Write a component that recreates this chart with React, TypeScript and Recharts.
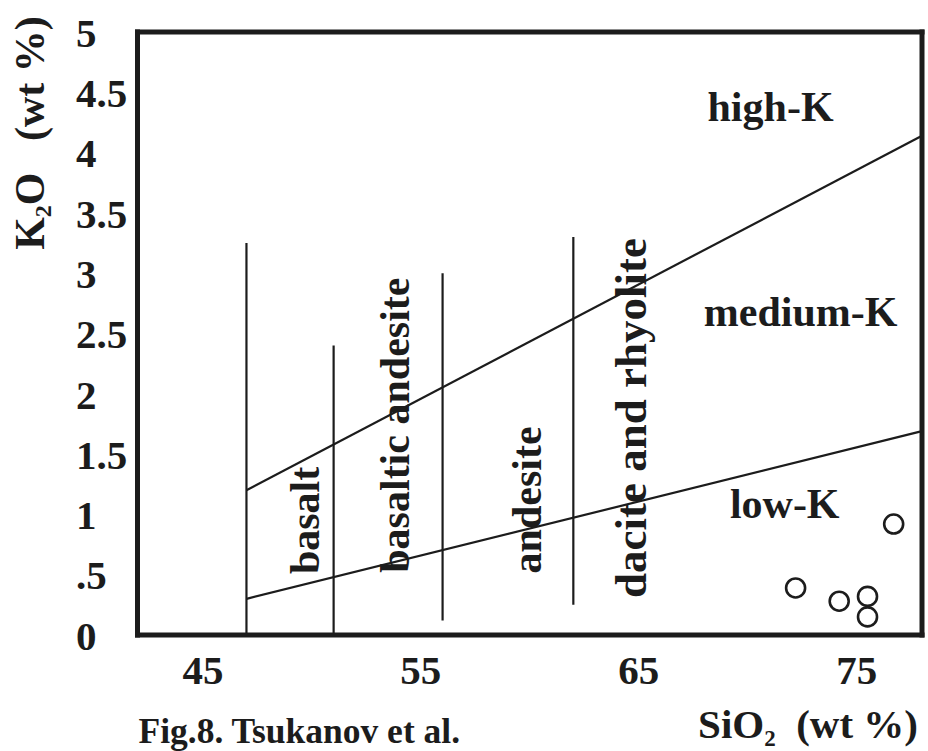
import React from 'react';
import { ScatterChart, Scatter, XAxis, YAxis, ReferenceLine } from 'recharts';

// axis setup
const X_DOMAIN = [42, 78];
const Y_DOMAIN = [0, 5];
const X_LABEL_TICKS = [45, 55, 65, 75];
const X_MINOR_TICKS = [46, 48, 50, 52, 54, 56, 58, 60, 62, 64, 66, 68, 70, 72, 74, 76];
const Y_TICKS = [0, 0.5, 1, 1.5, 2, 2.5, 3, 3.5, 4, 4.5, 5];
const Y_TICK_LABELS = ['0', '.5', '1', '1.5', '2', '2.5', '3', '3.5', '4', '4.5', '5'];

// K2O series boundaries (SiO2, K2O)
const HIGH_MEDIUM_K = [{ x: 47, y: 1.2 }, { x: 78, y: 4.14 }];
const MEDIUM_LOW_K = [{ x: 47, y: 0.3 }, { x: 78, y: 1.69 }];

// vertical rock-type dividers
const DIVIDER_SIO2 = [47, 51, 56, 62];
const DIVIDER_BOTTOM = [0, 0, 0.12, 0.25];
const DIVIDER_TOP = [3.25, 2.4, 3.0, 3.3];

// samples
const SAMPLE_SIO2 = [76.7, 72.2, 74.2, 75.5, 75.5];
const SAMPLE_K2O = [0.92, 0.39, 0.28, 0.32, 0.15];

// field names
const ZONE_NAMES = ['high-K', 'medium-K', 'low-K'];
const ZONE_SIO2 = [71.05, 72.43, 71.7];
const ZONE_K2O = [4.26, 2.56, 0.97];

const ROCK_NAMES = ['basalt', 'basaltic andesite', 'andesite', 'dacite and rhyolite'];
const ROCK_SIO2 = [50.33, 54.46, 60.52, 65.34];
const ROCK_K2O = [0.95, 1.74, 1.12, 1.8];
const ROCK_FONT = [42, 42, 42, 45];

const INK = '#1c1c1c';
const FONT = "'Liberation Serif', 'Times New Roman', serif";

const samples = SAMPLE_SIO2.map((x, i) => ({ x, y: SAMPLE_K2O[i] }));
const zones = ZONE_NAMES.map((text, i) => ({ x: ZONE_SIO2[i], y: ZONE_K2O[i], text }));
const rocks = ROCK_NAMES.map((text, i) => ({ x: ROCK_SIO2[i], y: ROCK_K2O[i], text, size: ROCK_FONT[i] }));

const YTick = (props: any) => {
  const { x, y, payload } = props;
  const idx = Y_TICKS.indexOf(payload.value);
  return (
    <text x={x - 61.5} y={y} dy="0.36em" textAnchor="start" fontFamily={FONT} fontWeight="bold" fontSize={41} fill={INK}>
      {Y_TICK_LABELS[idx]}
    </text>
  );
};

const YTitle = (props: any) => {
  const { viewBox } = props;
  const cx = viewBox.x + 44;
  const cy = viewBox.y + 101;
  return (
    <text
      x={cx}
      y={cy}
      transform={`rotate(-90 ${cx} ${cy})`}
      textAnchor="middle"
      fontFamily={FONT}
      fontWeight="bold"
      fontSize={42}
      fill={INK}
      style={{ whiteSpace: 'pre' }}
    >
      K<tspan fontSize={24} dy={7}>2</tspan>
      <tspan dy={-7}>O   (wt %)</tspan>
    </text>
  );
};

const XTitle = (props: any) => {
  const { viewBox } = props;
  const right = viewBox.x + viewBox.width - 4;
  return (
    <g fontFamily={FONT} fontWeight="bold" fill={INK}>
      <text x={right} y={viewBox.y + 103} textAnchor="end" fontSize={41} style={{ whiteSpace: 'pre' }}>
        SiO<tspan fontSize={23} dy={8}>2</tspan>
        <tspan dy={-8}>  (wt %)</tspan>
      </text>
      <text x={viewBox.x + 1} y={viewBox.y + 108} textAnchor="start" fontSize={35.5}>
        Fig.8. Tsukanov et al.
      </text>
    </g>
  );
};

const SampleDot = (props: any) => (
  <circle cx={props.cx} cy={props.cy} r={9.5} fill="#fff" stroke={INK} strokeWidth={2.6} />
);

const ZoneText = (props: any) => (
  <text x={props.cx} y={props.cy} textAnchor="middle" fontFamily={FONT} fontWeight="bold" fontSize={42} fill={INK}>
    {props.payload.text}
  </text>
);

const RockText = (props: any) => (
  <text
    x={props.cx}
    y={props.cy}
    transform={`rotate(-90 ${props.cx} ${props.cy})`}
    textAnchor="middle"
    fontFamily={FONT}
    fontWeight="bold"
    fontSize={props.payload.size}
    fill={INK}
  >
    {props.payload.text}
  </text>
);

const frame = { stroke: INK, strokeWidth: 5, strokeLinecap: 'square' as const };
const minorTick = { stroke: '#777', strokeWidth: 1 };

export default function App() {
  return (
    <div style={{ position: 'absolute', left: 0, top: 0, width: 928, height: 751, background: '#fff', overflow: 'hidden' }}>
      <ScatterChart width={928} height={751} margin={{ top: 32, right: 6, bottom: 56, left: 0 }}>
        {/* labelled axes */}
        <XAxis
          xAxisId="main"
          type="number"
          dataKey="x"
          domain={X_DOMAIN}
          ticks={X_LABEL_TICKS}
          allowDataOverflow
          height={60}
          axisLine={false}
          tickLine={false}
          tickSize={0}
          tickMargin={20}
          tick={{ fontFamily: FONT, fontWeight: 'bold', fontSize: 41, fill: INK }}
          label={{ content: XTitle }}
        />
        <YAxis
          yAxisId="main"
          type="number"
          dataKey="y"
          domain={Y_DOMAIN}
          ticks={Y_TICKS}
          allowDataOverflow
          width={137.5}
          axisLine={false}
          tickLine={false}
          tickSize={0}
          tickMargin={0}
          tick={<YTick />}
          label={{ content: YTitle }}
        />
        {/* frame with inward minor ticks */}
        <XAxis xAxisId="bottomFrame" type="number" orientation="bottom" mirror domain={X_DOMAIN} ticks={X_MINOR_TICKS} allowDataOverflow axisLine={frame} tickLine={minorTick} tickSize={7} tick={false} />
        <XAxis xAxisId="topFrame" type="number" orientation="top" mirror domain={X_DOMAIN} ticks={X_MINOR_TICKS} allowDataOverflow axisLine={frame} tickLine={minorTick} tickSize={7} tick={false} />
        <YAxis yAxisId="leftFrame" type="number" orientation="left" mirror domain={Y_DOMAIN} ticks={Y_TICKS} allowDataOverflow axisLine={frame} tickLine={minorTick} tickSize={7} tick={false} />
        <YAxis yAxisId="rightFrame" type="number" orientation="right" mirror domain={Y_DOMAIN} ticks={Y_TICKS} allowDataOverflow axisLine={frame} tickLine={minorTick} tickSize={7} tick={false} />

        <ReferenceLine xAxisId="main" yAxisId="main" segment={HIGH_MEDIUM_K} stroke={INK} strokeWidth={2.2} ifOverflow="visible" />
        <ReferenceLine xAxisId="main" yAxisId="main" segment={MEDIUM_LOW_K} stroke={INK} strokeWidth={2.2} ifOverflow="visible" />
        {DIVIDER_SIO2.map((x, i) => (
          <ReferenceLine
            key={x}
            xAxisId="main"
            yAxisId="main"
            segment={[{ x, y: DIVIDER_BOTTOM[i] }, { x, y: DIVIDER_TOP[i] }]}
            stroke={INK}
            strokeWidth={2.2}
            ifOverflow="visible"
          />
        ))}

        <Scatter xAxisId="main" yAxisId="main" data={rocks} shape={RockText} isAnimationActive={false} />
        <Scatter xAxisId="main" yAxisId="main" data={zones} shape={ZoneText} isAnimationActive={false} />
        <Scatter xAxisId="main" yAxisId="main" data={samples} shape={SampleDot} isAnimationActive={false} />
      </ScatterChart>
    </div>
  );
}
